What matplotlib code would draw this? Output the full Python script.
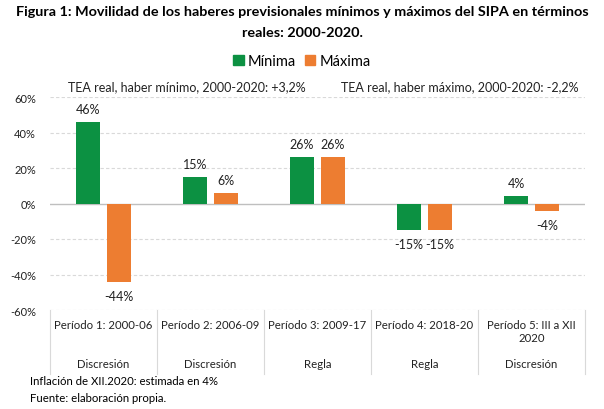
import matplotlib
matplotlib.use("Agg")
import matplotlib.pyplot as plt
import numpy as np
from matplotlib.lines import Line2D
from matplotlib.patches import Patch

plt.rcParams['font.family'] = ['Lato', 'DejaVu Sans']

periods = ["Período 1: 2000-06", "Período 2: 2006-09", "Período 3: 2009-17",
           "Período 4: 2018-20", "Período 5: III a XII\n2020"]
regimes = ["Discresión", "Discresión", "Regla", "Regla", "Discresión"]
minima = [46, 15, 26, -15, 4]
maxima = [-44, 6, 26, -15, -4]
yticks = [-60, -40, -20, 0, 20, 40, 60]

green = "#0C9142"
orange = "#ED7D31"

fig = plt.figure(figsize=(6.04, 4.10), dpi=100)
W, H = 604, 410
ax = fig.add_axes([50 / W, 1 - 311 / H, (585 - 50) / W, (311 - 98) / H])

x = np.arange(len(periods))
bw = 0.224
off = 0.145
b1 = ax.bar(x - off, minima, bw, color=green, zorder=3)
b2 = ax.bar(x + off, maxima, bw, color=orange, zorder=3)

for bars, vals in ((b1, minima), (b2, maxima)):
    for rect, v in zip(bars, vals):
        cx = rect.get_x() + rect.get_width() / 2
        if v >= 0:
            ax.annotate(f"{v}%", (cx, v), xytext=(0, 5), textcoords="offset points",
                        ha="center", va="bottom", fontsize=9, color="#222222")
        else:
            ax.annotate(f"{v}%", (cx, v), xytext=(0, -6), textcoords="offset points",
                        ha="center", va="top", fontsize=9, color="#222222")

ax.set_xlim(-0.5, len(periods) - 0.5)
ax.set_ylim(-60, 60)
ax.set_yticks(yticks)
ax.set_yticklabels([f"{t}%" for t in yticks], fontsize=8, color="#222222")
ax.tick_params(axis="y", length=0, pad=10)
ax.set_xticks([])
for s in ax.spines.values():
    s.set_visible(False)
for t in yticks:
    if t == 0:
        ax.axhline(t, color="#BFBFBF", lw=1.0, zorder=2)
    else:
        ax.axhline(t, color="#D9D9D9", lw=0.8, ls=(0, (3, 2)), zorder=1)

# category axis boxes
for i in range(len(periods) + 1):
    xd = i / len(periods)
    ax.add_line(Line2D([xd, xd], [0, -64 / 213], transform=ax.transAxes,
                       color="#D9D9D9", lw=0.8, clip_on=False))
for i, (p, r) in enumerate(zip(periods, regimes)):
    xc = (i + 0.5) / len(periods)
    ax.text(xc, -9 / 213, p, transform=ax.transAxes, ha="center", va="top",
            fontsize=8.2, color="#222222", linespacing=1.25)
    ax.text(xc, -48 / 213, r, transform=ax.transAxes, ha="center", va="top",
            fontsize=8.2, color="#222222")

fig.text(0.5, 1 - 12 / H, "Figura 1: Movilidad de los haberes previsionales mínimos y máximos del SIPA en términos",
         ha="center", va="center", fontsize=10.4, fontweight="bold")
fig.text(0.5, 1 - 33 / H, "reales: 2000-2020.",
         ha="center", va="center", fontsize=10.4, fontweight="bold")

handles = [Patch(color=green), Patch(color=orange)]
fig.legend(handles, ["Mínima", "Máxima"], loc="center", bbox_to_anchor=(302 / W, 1 - 62 / H),
           ncol=2, frameon=False, fontsize=10.5, handlelength=0.7, handleheight=0.7,
           handletextpad=0.3, columnspacing=0.6)

fig.text(68 / W, 1 - 87 / H, "TEA real, haber mínimo, 2000-2020: +3,2%", ha="left", va="center",
         fontsize=9, color="#222222")
fig.text(341 / W, 1 - 87 / H, "TEA real, haber máximo, 2000-2020: -2,2%", ha="left", va="center",
         fontsize=9, color="#222222")

fig.text(30 / W, 1 - 382 / H, "Inflación de XII.2020: estimada en 4%", ha="left", va="center",
         fontsize=8.2, color="#000000")
fig.text(30 / W, 1 - 399 / H, "Fuente: elaboración propia.", ha="left", va="center",
         fontsize=8.2, color="#000000")

fig.savefig("out.png", dpi=100)
